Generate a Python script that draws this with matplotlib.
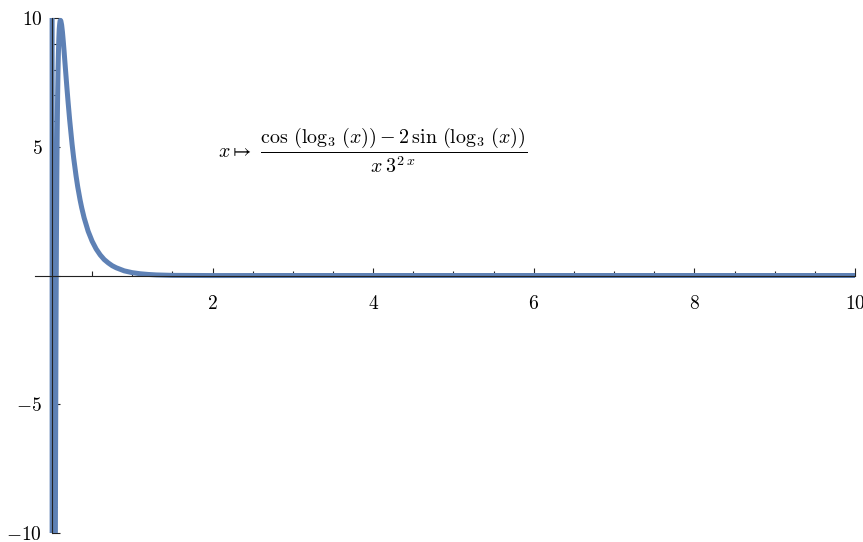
import matplotlib
matplotlib.use("Agg")
import matplotlib.pyplot as plt
from matplotlib.ticker import MultipleLocator, FuncFormatter

plt.rcParams['mathtext.fontset'] = 'cm'
plt.rcParams['font.family'] = 'serif'

# points (x, y); values outside [-10, 10] are clipped anyway
xs = [0.001, 0.002, 0.005, 0.01, 0.02, 0.03, 0.04, 0.045, 0.05, 0.055, 0.06,
      0.065, 0.07, 0.075, 0.08, 0.085, 0.09, 0.095, 0.10, 0.105, 0.11, 0.12,
      0.13, 0.14, 0.15, 0.16, 0.175, 0.185, 0.20, 0.22, 0.25, 0.27, 0.30,
      0.32, 0.35, 0.37, 0.40, 0.45, 0.50, 0.55, 0.60, 0.65, 0.70, 0.75,
      0.80, 0.90, 1.0, 1.1, 1.2, 1.3, 1.5, 2.0, 3.0, 4.0, 6.0, 8.0, 10.0]
ys = [40.0, -40.0, -40.0, -40.0, -40.0, -35.0, -12.8, -6.6, -1.9, 1.3, 3.8,
      5.62, 7.0, 7.98, 8.65, 9.19, 9.56, 9.75, 9.88, 9.91, 9.89, 9.73,
      9.46, 9.11, 8.73, 8.32, 7.72, 7.32, 6.75, 6.04, 5.10, 4.56, 3.86,
      3.45, 2.93, 2.63, 2.24, 1.72, 1.33, 1.03, 0.80, 0.62, 0.49, 0.38,
      0.30, 0.18, 0.11, 0.067, 0.04, 0.022, 0.005, -0.002, 0.0, 0.0, 0.0,
      0.0, 0.0]

label = (r'$x \mapsto\,\, \dfrac{\cos\,(\log_3\,(x)) - 2\,\sin\,(\log_3\,(x))}'
         r'{x\,3^{2\;x}}$')

x_lo = -0.22   # the x axis runs a little past the origin to the left
px_per_x = 803 / 10.0

fig = plt.figure(figsize=(8.63, 5.42), dpi=100)
left_px = 52 + x_lo * px_per_x
ax = fig.add_axes([left_px / 863, 9 / 542, (855 - left_px) / 863, 515 / 542])

ax.plot(xs, ys, color='#5E81B5', lw=3.6, solid_capstyle='butt')

ax.set_xlim(x_lo, 10)
ax.set_ylim(-10, 10)

# axes through the origin, Mathematica style
for side in ['top', 'right']:
    ax.spines[side].set_visible(False)
ax.spines['left'].set_position(('data', 0))
ax.spines['bottom'].set_position(('data', 0))
ax.spines['bottom'].set_bounds(-0.21, 10)
for side in ['left', 'bottom']:
    ax.spines[side].set_linewidth(0.8)
    ax.spines[side].set_color('#222222')
    ax.spines[side].set_zorder(3)

ax.xaxis.set_major_locator(MultipleLocator(2))
ax.xaxis.set_minor_locator(MultipleLocator(0.5))
ax.yaxis.set_major_locator(MultipleLocator(5))
ax.yaxis.set_minor_locator(MultipleLocator(1))

fmt = FuncFormatter(lambda v, p: '' if abs(v) < 1e-9 else r'$%d$' % round(v))
ax.xaxis.set_major_formatter(fmt)
ax.yaxis.set_major_formatter(fmt)

ax.tick_params(which='both', direction='in', width=0.8, color='#222222',
               labelsize=14)
ax.tick_params(which='major', length=6)
ax.tick_params(which='minor', length=3.6)
ax.tick_params(axis='x', pad=14)
ax.tick_params(axis='y', pad=7)

ax.text(3.99, 4.86, label, ha='center', va='center', fontsize=14.4)

fig.savefig('out.png', dpi=100)
